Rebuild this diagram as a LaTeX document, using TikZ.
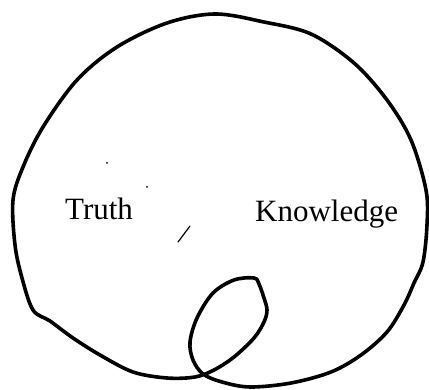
\documentclass[tikz,border=0pt]{standalone}
\usepackage{fontspec}
\setmainfont{Liberation Serif}
\usetikzlibrary{positioning}

\begin{document}
\begin{tikzpicture}[x=1pt,y=-1pt,
outline/.style={draw,line width=3.6pt,line join=round},
label/.style={font=\fontsize{31}{34}\selectfont,inner sep=0pt,anchor=base west},
speck/.style={line width=1.2pt,line cap=round}
]
\useasboundingbox (0,0) rectangle (429,390);
% big circle with the small loop at its foot
\draw[outline] plot[smooth cycle,tension=0.55] coordinates {
(167,378) (133,372) (100,355) (73,338) (50,321) (33,310) (22,278) (15,245)
(13,200) (23,167) (43,127) (77,80) (117,47) (167,23) (215,14) (264,22)
(311,34) (354,63) (387,100) (411,140) (426,190) (427,225) (423,262) (414,283)
(404,305) (387,332) (361,355) (331,372) (291,383) (250,387) (222,382)
(203,374) (193,360) (190,342) (197,318) (213,293) (234,280) (254,278)
(259,284) (264,298) (267,310) (264,322) (254,338) (234,357) (214,370) (195,377)};
\node[label] (truth) at (65,220) {Truth};
\node[label] (knowledge) at (255,222) {Knowledge};
% stray marks
\fill (107,163) circle (1);
\fill (147,187) circle (1);
\coordinate (s1) at (178,242);
\coordinate (s2) at (190,226);
\draw[speck] (s1) -- (s2);
\end{tikzpicture}
\end{document}
